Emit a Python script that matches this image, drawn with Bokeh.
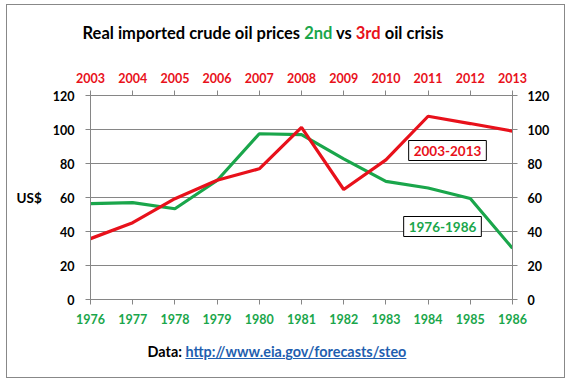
from bokeh.plotting import figure
from bokeh.models import (Range1d, LinearAxis, FixedTicker, Label, Div)
from bokeh.layouts import column
from bokeh.embed import file_html
from bokeh.resources import INLINE

# ---- data ----
years_2nd = [1976, 1977, 1978, 1979, 1980, 1981, 1982, 1983, 1984, 1985, 1986]
years_3rd = [2003, 2004, 2005, 2006, 2007, 2008, 2009, 2010, 2011, 2012, 2013]
price_2nd = [56.4, 57.0, 53.4, 70.0, 97.5, 97.0, 82.7, 69.5, 65.6, 59.4, 30.1]
price_3rd = [35.8, 45.2, 59.3, 70.1, 76.9, 101.2, 64.7, 82.1, 107.8, 103.5, 99.0]
y_ticks = [0, 20, 40, 60, 80, 100, 120]

GREEN = "#1AA64B"
RED = "#E8111B"
GREY = "#868686"
BLUE = "#1F5FB0"
FONT = "Lato"

W = 557
TITLE_H, FIG_H, SRC_H = 53, 277, 42
FL, FR = 83, 505          # frame left/right in figure px
BT, BB = 37, 36           # top / bottom borders
OX, OY = 7, 5             # content origin in page px

title = Div(
    text=(f'<div style="font-family:{FONT};font-weight:bold;font-size:16.5px;'
          f'line-height:20px;color:black;white-space:nowrap;">'
          f'Real imported crude oil prices <span style="color:{GREEN}">2nd</span> vs '
          f'<span style="color:{RED}">3rd</span> oil crisis</div>'),
    width=W, height=TITLE_H, margin=0,
    styles={"text-align": "center", "padding-top": "18px", "padding-right": "45px",
            "box-sizing": "border-box", "background": "white"})

p = figure(width=W, height=FIG_H, output_backend="svg", toolbar_location=None,
           x_range=Range1d(years_2nd[0], years_2nd[-1]),
           y_range=Range1d(0, 120),
           min_border_left=FL, min_border_right=W - FR,
           min_border_top=BT, min_border_bottom=BB,
           x_axis_location=None, y_axis_location=None, margin=0)
p.extra_x_ranges = {"top": Range1d(years_3rd[0], years_3rd[-1])}
p.background_fill_color = "white"
p.border_fill_color = "white"
p.outline_line_color = GREY
p.xgrid.visible = False

def style_axis(ax, color, standoff):
    ax.axis_line_color = GREY
    ax.major_tick_line_color = GREY
    ax.major_tick_in = 0
    ax.major_tick_out = 5
    ax.minor_tick_line_color = None
    ax.major_label_text_font = FONT
    ax.major_label_text_font_style = "bold"
    ax.major_label_text_font_size = "12.5px"
    ax.major_label_text_color = color
    ax.major_label_standoff = standoff

bx = LinearAxis(ticker=FixedTicker(ticks=years_2nd))
style_axis(bx, GREEN, 9)
p.add_layout(bx, "below")

tx = LinearAxis(x_range_name="top", ticker=FixedTicker(ticks=years_3rd))
style_axis(tx, RED, 8)
p.add_layout(tx, "above")

ly = LinearAxis(ticker=FixedTicker(ticks=y_ticks), axis_label="US$")
style_axis(ly, "black", 11)
ly.axis_label_orientation = "horizontal"
ly.axis_label_text_font = FONT
ly.axis_label_text_font_style = "bold"
ly.axis_label_text_font_size = "13.5px"
ly.axis_label_text_color = "black"
ly.axis_label_standoff = 8
p.add_layout(ly, "left")

ry = LinearAxis(ticker=FixedTicker(ticks=y_ticks))
style_axis(ry, "black", 10)
p.add_layout(ry, "right")

p.ygrid.ticker = FixedTicker(ticks=y_ticks)
p.ygrid.grid_line_color = GREY
p.ygrid.grid_line_width = 1

p.line(years_2nd, price_2nd, line_color=GREEN, line_width=3.2)
p.line(years_3rd, price_3rd, line_color=RED, line_width=3.2, x_range_name="top")

# helpers: page-pixel -> data
def dx(px):
    fx = px - OX
    return years_2nd[0] + (fx - FL) / (FR - FL) * (years_2nd[-1] - years_2nd[0])

def dy(py):
    fy = py - OY - TITLE_H
    ft, fb = BT, FIG_H - BB
    return (fb - fy) / (fb - ft) * 120

# series boxes
for text, x, y, c in [("2003-2013", 447, 150, RED), ("1976-1986", 442, 226, GREEN)]:
    p.add_layout(Label(x=dx(x), y=dy(y), text=text, text_color=c, text_font=FONT,
                       text_font_style="bold", text_font_size="13.5px",
                       text_align="center", text_baseline="middle",
                       background_fill_color="white", border_line_color="black",
                       border_line_width=1, padding=5))

source = Div(
    text=(f'<div style="font-family:{FONT};font-weight:bold;font-size:14.4px;'
          f'line-height:18px;white-space:nowrap;">Data: '
          f'<span style="color:{BLUE};text-decoration:underline;">'
          f'http://www.eia.gov/forecasts/steo</span></div>'),
    width=W, height=SRC_H, margin=0,
    styles={"text-align": "center", "padding-top": "8px", "padding-right": "17px",
            "box-sizing": "border-box", "background": "white"})

layout = column(title, p, source, spacing=0, margin=(4, 0, 0, 6),
                styles={"border": "1px solid #888888", "background": "white"})

open("out.html", "w").write(file_html(layout, INLINE))
